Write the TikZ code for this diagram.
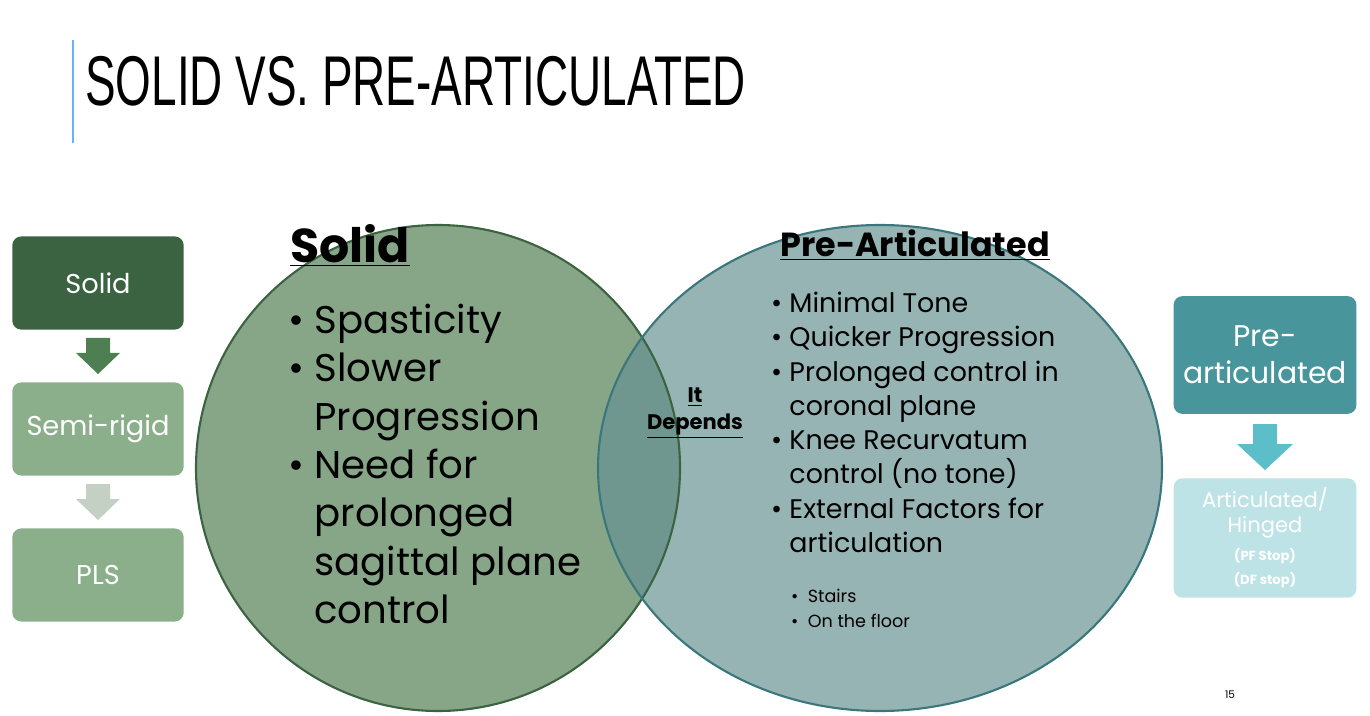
\documentclass[tikz,border=0pt]{standalone}
\usepackage{fontspec}
\usepackage{graphicx}
\setmainfont{Poppins}
\newfontfamily\titlefont{Liberation Sans}
\definecolor{dkgreen}{HTML}{3B6341}
\definecolor{midgreen}{HTML}{8BAF8B}
\definecolor{arrgreen}{HTML}{4E7F52}
\definecolor{palegreen}{HTML}{C3D0C3}
\definecolor{teal}{HTML}{48959C}
\definecolor{lteal}{HTML}{5BBEC8}
\definecolor{paleteal}{HTML}{BEE3E6}
\definecolor{circgreen}{HTML}{87A687}
\definecolor{circteal}{HTML}{97B4B4}
\definecolor{lens}{HTML}{6F978F}
\tikzset{
  box/.style={rounded corners=5pt, minimum width=97.5pt, minimum height=53pt, text=white, align=center, inner sep=2pt},
  bigtxt/.style={font=\fontsize{22}{27.5}\selectfont, anchor=north west, align=left},
  smalltxt/.style={font=\fontsize{15.3}{19.5}\selectfont, anchor=north west, align=left},
}
\begin{document}
\begin{tikzpicture}[x=0.02cm, y=-0.02cm]
	\useasboundingbox (0,0) rectangle (1370,716);
	% title
	\draw[color=blue!50!cyan!60, line width=1pt] (73,40) -- (73,143);
	\node[anchor=south west, inner sep=0] (title) at (85,107) {\resizebox{376pt}{28pt}{\titlefont SOLID VS. PRE-ARTICULATED}};
	% venn
	\fill[circgreen] (438,468) ellipse [x radius=242, y radius=243];
	\fill[circteal] (880,468) ellipse [x radius=282, y radius=243];
	\begin{scope}
		\clip (438,468) ellipse [x radius=242, y radius=243];
		\fill[lens] (880,468) ellipse [x radius=282, y radius=243];
	\end{scope}
	\draw[dkgreen, line width=1.2pt] (438,468) ellipse [x radius=242, y radius=243];
	\draw[teal!80!black, line width=1.2pt] (880,468) ellipse [x radius=282, y radius=243];
	\node[font=\fontsize{27}{30}\selectfont\bfseries, anchor=center] (solidhd) at (350,245) {\underline{Solid}};
	\node[bigtxt] (solidlist) at (282,298) {\textbullet\ Spasticity\\\textbullet\ Slower\\\hphantom{\textbullet\ }Progression\\\textbullet\ Need for\\\hphantom{\textbullet\ }prolonged\\\hphantom{\textbullet\ }sagittal plane\\\hphantom{\textbullet\ }control};
	\node[font=\fontsize{12}{15}\selectfont\bfseries, align=center] (depends) at (695,413) {\underline{It}\\\underline{Depends}};
	\node[font=\fontsize{19}{22}\selectfont\bfseries, anchor=center] (prehd) at (915,245) {\underline{Pre-Articulated}};
	\node[smalltxt] (prelist) at (765,286) {\textbullet\ Minimal Tone\\\textbullet\ Quicker Progression\\\textbullet\ Prolonged control in\\\hphantom{\textbullet\ }coronal plane\\\textbullet\ Knee Recurvatum\\\hphantom{\textbullet\ }control (no tone)\\\textbullet\ External Factors for\\\hphantom{\textbullet\ }articulation};
	\node[font=\fontsize{10}{14}\selectfont, anchor=north west, align=left] (sublist) at (785,583) {\textbullet\ \ Stairs\\\textbullet\ \ On the floor};
	% left chain
	\node[box, fill=dkgreen, font=\fontsize{15.5}{20}\selectfont] (solid) at (98,283) {Solid};
	\node[box, fill=midgreen, font=\fontsize{15.5}{20}\selectfont] (semi) at (98,429) {Semi-rigid};
	\node[box, fill=midgreen, font=\fontsize{15.5}{20}\selectfont] (pls) at (98,575) {PLS};
	\fill[arrgreen] (86,338) -- (110,338) -- (110,353) -- (120,353) -- (98,374) -- (76,353) -- (86,353) -- cycle;
	\fill[palegreen] (86,484) -- (110,484) -- (110,499) -- (120,499) -- (98,520) -- (76,499) -- (86,499) -- cycle;
	% right chain
	\node[box, fill=teal, minimum width=104pt, minimum height=67pt, font=\fontsize{17}{21}\selectfont] (pre) at (1265,355) {Pre-\\articulated};
	\node[box, fill=paleteal, minimum width=104pt, minimum height=68pt, font=\fontsize{12}{14}\selectfont] (artic) at (1265,538) {Articulated/\\Hinged\\[2pt]{\fontsize{7.5}{12}\selectfont\bfseries (PF Stop)}\\{\fontsize{7.5}{10}\selectfont\bfseries (DF stop)}};
	\fill[lteal] (1253,424) -- (1277,424) -- (1277,444) -- (1293,444) -- (1265,470) -- (1237,444) -- (1253,444) -- cycle;
	\node[font=\fontsize{6}{7}\selectfont] (page) at (1230,695) {15};
\end{tikzpicture}
\end{document}
